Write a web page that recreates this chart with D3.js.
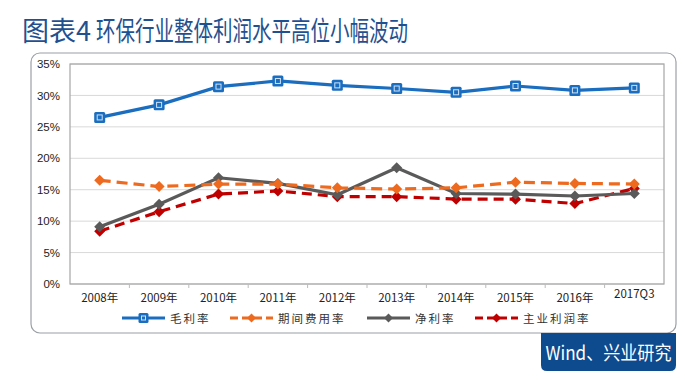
<!DOCTYPE html>
<html><head><meta charset="utf-8">
<script src="https://cdn.jsdelivr.net/npm/d3@7"></script>
<style>body{margin:0;background:#fff;}svg{display:block;}</style>
</head><body>
<script>
const categories = ["2008年","2009年","2010年","2011年","2012年","2013年","2014年","2015年","2016年","2017Q3"];
const grossMargin = [26.5,28.5,31.4,32.3,31.6,31.1,30.5,31.5,30.8,31.2];
const expenseRatio = [16.5,15.5,15.9,15.9,15.3,15.1,15.3,16.2,16.0,15.9];
const netMargin = [9.1,12.7,16.9,16.0,14.2,18.5,14.4,14.3,14.0,14.4];
const mainProfit = [8.4,11.5,14.3,14.8,13.9,13.9,13.5,13.5,12.8,15.2];
const yTicks = [0,5,10,15,20,25,30,35];
const seriesNames = ["毛利率","期间费用率","净利率","主业利润率"];

(function(){
const W=685,H=380;
const svg=d3.select("body").append("svg").attr("width",W).attr("height",H);
const font="'Noto Sans CJK SC','Noto Sans',sans-serif";

// title
const title=svg.append("text").attr("y",41).attr("font-family",font)
  .attr("font-size",27).attr("fill","#1f5190").attr("font-weight",400);
title.append("tspan").attr("x",22).text("图表4");
title.append("tspan").attr("x",96).attr("textLength",312).attr("lengthAdjust","spacingAndGlyphs")
  .text("环保行业整体利润水平高位小幅波动");

// outer box
svg.append("rect").attr("x",31).attr("y",53).attr("width",645).attr("height",280)
  .attr("rx",9).attr("fill","#fff").attr("stroke","#9aa0a6").attr("stroke-width",1.2);

// source box
const sx=541,sy=333,sw=135,sh=38,r=6;
svg.append("path").attr("d",`M${sx},${sy} H${sx+sw} V${sy+sh-r} Q${sx+sw},${sy+sh} ${sx+sw-r},${sy+sh} H${sx+r} Q${sx},${sy+sh} ${sx},${sy+sh-r} Z`)
  .attr("fill","#0d4a8e");
svg.append("text").attr("x",sx+sw/2).attr("y",sy+27).attr("text-anchor","middle")
  .attr("font-family",font).attr("font-size",19).attr("fill","#fff")
  .attr("textLength",126).attr("lengthAdjust","spacingAndGlyphs").text("Wind、兴业研究");

const pL=70,pR=664,pT=64,pB=284;
const x=d3.scaleBand().domain(categories).range([pL,pR]);
const y=d3.scaleLinear().domain([0,35]).range([pB,pT]);

// grid
svg.append("g").selectAll("line").data(yTicks).join("line")
  .attr("x1",pL).attr("x2",pR).attr("y1",d=>y(d)).attr("y2",d=>y(d))
  .attr("stroke","#d9d9d9").attr("stroke-width",1);
// plot frame
svg.append("rect").attr("x",pL).attr("y",pT).attr("width",pR-pL).attr("height",pB-pT)
  .attr("fill","none").attr("stroke","#a6a6a6").attr("stroke-width",1.2);

// y axis
const yAxis=svg.append("g").attr("transform",`translate(${pL-7},0)`)
  .call(d3.axisLeft(y).tickValues(yTicks).tickFormat(d=>d+"%").tickSize(0));
yAxis.select(".domain").remove();
yAxis.selectAll("text").attr("font-family","'Liberation Sans',Arial,sans-serif").attr("font-size",11.5).attr("fill","#222");

// x axis
const xAxis=svg.append("g").attr("transform",`translate(0,${pB})`)
  .call(d3.axisBottom(x).tickSize(0).tickPadding(10));
xAxis.select(".domain").remove();
xAxis.selectAll("text").attr("font-family",font).attr("font-size",11.5).attr("fill","#222");
xAxis.selectAll("text").filter(d=>d==="2017Q3").attr("dy","0.35em");
// x small ticks at band boundaries
svg.append("g").selectAll("line").data(categories.slice(1)).join("line")
  .attr("x1",d=>x(d)).attr("x2",d=>x(d)).attr("y1",pB).attr("y2",pB+4)
  .attr("stroke","#bbb");

const cx=(d,i)=>x(categories[i])+x.bandwidth()/2;
const series=[
  {name:seriesNames[0],data:grossMargin,color:"#1a6dbf",dash:null,marker:"square"},
  {name:seriesNames[1],data:expenseRatio,color:"#ee6a1e",dash:"11,6",marker:"diamond"},
  {name:seriesNames[2],data:netMargin,color:"#5a5a5a",dash:null,marker:"diamond"},
  {name:seriesNames[3],data:mainProfit,color:"#c00000",dash:"10,6",marker:"diamond"}
];
const line=d3.line().x(cx).y(d=>y(d));
function drawMarker(g,type,px,py,color,size){
  if(type==="square"){
    g.append("rect").attr("x",px-size/2).attr("y",py-size/2).attr("width",size).attr("height",size)
     .attr("rx",1.5).attr("fill",color);
    g.append("rect").attr("x",px-size/2+3).attr("y",py-size/2+3).attr("width",size-6).attr("height",size-6)
     .attr("fill","none").attr("stroke","#cfe3f7").attr("stroke-width",1);
  } else {
    g.append("path").attr("d",`M${px},${py-size/2} L${px+size/2},${py} L${px},${py+size/2} L${px-size/2},${py} Z`)
     .attr("fill",color);
  }
}
[series[3],series[2],series[1],series[0]].forEach(s=>{
  const g=svg.append("g");
  g.append("path").datum(s.data).attr("d",line).attr("fill","none")
    .attr("stroke",s.color).attr("stroke-width",3.2).attr("stroke-dasharray",s.dash);
  s.data.forEach((v,i)=>drawMarker(g,s.marker,cx(v,i),y(v),s.color,11));
});

// legend
const legX=[122,230,367,475];
const lg=svg.append("g");
series.forEach((s,i)=>{
  const lx=legX[i],ly=318,len=43;
  lg.append("line").attr("x1",lx).attr("x2",lx+len).attr("y1",ly).attr("y2",ly)
    .attr("stroke",s.color).attr("stroke-width",3.2).attr("stroke-dasharray",s.dash?"8,4":null);
  drawMarker(lg,s.marker,lx+len/2,ly,s.color,s.marker==="square"?10:9);
  lg.append("text").attr("x",lx+len+5).attr("y",ly+4.5).attr("font-family",font)
    .attr("font-size",11.5).attr("fill","#333").attr("letter-spacing",2).text(s.name);
});
})();
</script>
</body></html>
